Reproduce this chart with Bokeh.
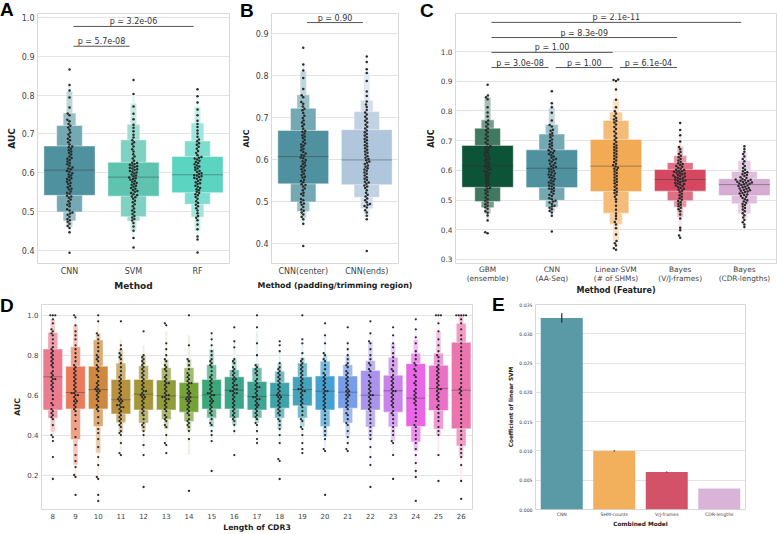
import colorsys
import numpy as np
from bokeh.plotting import figure
from bokeh.models import Range1d, FixedTicker, NumeralTickFormatter, Div, InlineStyleSheet
from bokeh.layouts import row, column
from bokeh.embed import file_html
from bokeh.resources import INLINE
from bokeh.core.properties import value

# ------------------------------------------------------------------ data
A_categories = ["CNN", "SVM", "RF"]
B_categories = ["CNN(center)", "CNN(ends)"]
C_categories = ["GBM\n(ensemble)", "CNN\n(AA-Seq)", "Linear-SVM\n(# of SHMs)",
                "Bayes\n(V/J-frames)", "Bayes\n(CDR-lengths)"]
D_categories = ["8", "9", "10", "11", "12", "13", "14", "15", "16", "17",
                "18", "19", "20", "21", "22", "23", "24", "25", "26"]
E_categories = ["CNN", "SHM-counts", "V/J-frames", "CDR-lengths"]

cnn_auc = [0.394, 0.447, 0.458, 0.463, 0.469, 0.474, 0.478, 0.481, 0.487, 0.492, 0.495, 0.498,
           0.503, 0.506, 0.514, 0.518, 0.521, 0.527, 0.531, 0.536, 0.539, 0.541,
           0.546, 0.549, 0.552, 0.557, 0.559, 0.563, 0.566, 0.571, 0.574, 0.577, 0.581, 0.584,
           0.586, 0.589, 0.593, 0.596, 0.599, 0.603, 0.605,
           0.609, 0.611, 0.614, 0.618, 0.622, 0.625, 0.629, 0.633, 0.636, 0.638, 0.642, 0.647,
           0.651, 0.655, 0.658, 0.662, 0.666, 0.668,
           0.673, 0.679, 0.684, 0.688, 0.693, 0.699, 0.704, 0.711, 0.717, 0.721,
           0.726, 0.733, 0.737, 0.748, 0.753, 0.768, 0.794, 0.812, 0.826, 0.866]
cnn_median = 0.607
cnn_levels = [(0.542, 0.669), (0.499, 0.722), (0.476, 0.754), (0.460, 0.810), (0.440, 0.830)]

svm_auc = [0.408, 0.432, 0.451, 0.462, 0.471, 0.477, 0.481, 0.485, 0.489, 0.494, 0.499, 0.503,
           0.508, 0.514, 0.519, 0.524, 0.528, 0.533, 0.537, 0.539,
           0.542, 0.545, 0.548, 0.551, 0.553, 0.556, 0.559, 0.561, 0.564, 0.567, 0.569, 0.572,
           0.574, 0.577, 0.579, 0.582, 0.584, 0.586, 0.588,
           0.591, 0.593, 0.596, 0.598, 0.601, 0.603, 0.605, 0.607, 0.609, 0.611, 0.613, 0.615,
           0.617, 0.619, 0.621, 0.623, 0.625, 0.626,
           0.631, 0.637, 0.642, 0.648, 0.655, 0.661, 0.668, 0.674, 0.679, 0.684,
           0.691, 0.698, 0.707, 0.716, 0.724, 0.738, 0.752, 0.771, 0.803, 0.839]
svm_median = 0.589
svm_levels = [(0.540, 0.627), (0.487, 0.685), (0.476, 0.725), (0.450, 0.779), (0.430, 0.800)]

rf_auc = [0.395, 0.428, 0.436, 0.455, 0.467, 0.478, 0.484, 0.489, 0.496, 0.503, 0.509, 0.514,
          0.518, 0.522, 0.527, 0.533, 0.538, 0.542, 0.545, 0.548,
          0.551, 0.555, 0.558, 0.561, 0.564, 0.567, 0.571, 0.573, 0.576, 0.579, 0.582, 0.585,
          0.587, 0.589, 0.591, 0.593, 0.594,
          0.597, 0.599, 0.602, 0.605, 0.607, 0.611, 0.614, 0.616, 0.619, 0.622, 0.625, 0.628,
          0.631, 0.634, 0.637, 0.639, 0.641,
          0.645, 0.651, 0.656, 0.662, 0.667, 0.672, 0.676, 0.681,
          0.686, 0.693, 0.701, 0.709, 0.718, 0.726, 0.734, 0.748, 0.763, 0.781, 0.797, 0.815]
rf_median = 0.595
rf_levels = [(0.549, 0.642), (0.519, 0.682), (0.486, 0.728), (0.450, 0.770), (0.430, 0.795)]

cnn_ends_auc = [0.382, 0.458, 0.466, 0.474, 0.479, 0.486, 0.489, 0.492, 0.494, 0.498, 0.503,
                0.507, 0.512, 0.516, 0.521, 0.527, 0.532, 0.536, 0.538,
                0.542, 0.545, 0.547, 0.551, 0.554, 0.558, 0.562, 0.566, 0.569, 0.573, 0.576,
                0.579, 0.583, 0.586, 0.589, 0.592, 0.595, 0.598,
                0.601, 0.604, 0.608, 0.612, 0.616, 0.619, 0.623, 0.627, 0.631, 0.634, 0.638,
                0.642, 0.646, 0.649, 0.653, 0.657, 0.661, 0.665, 0.669,
                0.674, 0.678, 0.683, 0.688, 0.692, 0.697, 0.702, 0.707, 0.712,
                0.718, 0.725, 0.731, 0.738, 0.751, 0.762, 0.787, 0.806, 0.815, 0.832, 0.845]
cnn_ends_median = 0.599
cnn_ends_levels = [(0.540, 0.671), (0.510, 0.714), (0.483, 0.741), (0.463, 0.808), (0.450, 0.830)]

gbm_auc = [0.388, 0.392, 0.431, 0.448, 0.457, 0.462, 0.471, 0.476, 0.481, 0.486, 0.492, 0.497,
           0.503, 0.509, 0.516, 0.522, 0.528, 0.533, 0.538, 0.541,
           0.546, 0.551, 0.556, 0.562, 0.567, 0.572, 0.576, 0.581, 0.585, 0.589, 0.593, 0.597,
           0.601, 0.604, 0.608, 0.611, 0.614,
           0.617, 0.621, 0.625, 0.629, 0.633, 0.637, 0.641, 0.645, 0.649, 0.653, 0.658, 0.662,
           0.667, 0.671, 0.675, 0.679, 0.682,
           0.688, 0.694, 0.701, 0.707, 0.714, 0.721, 0.728, 0.735, 0.741,
           0.748, 0.755, 0.762, 0.768, 0.781, 0.795, 0.812, 0.839, 0.846, 0.852, 0.888]
gbm_median = 0.615
gbm_levels = [(0.543, 0.684), (0.495, 0.742), (0.474, 0.770), (0.454, 0.846), (0.430, 0.850)]

linsvm_auc = [0.333, 0.338, 0.347, 0.355, 0.362, 0.384, 0.405, 0.418, 0.426, 0.437, 0.446,
              0.455, 0.467, 0.481, 0.494, 0.503, 0.511, 0.518, 0.524, 0.528,
              0.533, 0.539, 0.545, 0.551, 0.557, 0.562, 0.566, 0.571, 0.576, 0.581, 0.586,
              0.591, 0.596, 0.601, 0.605, 0.609, 0.613,
              0.617, 0.622, 0.628, 0.633, 0.639, 0.644, 0.649, 0.654, 0.659, 0.664, 0.669,
              0.674, 0.679, 0.684, 0.689, 0.695, 0.702,
              0.709, 0.716, 0.724, 0.731, 0.739, 0.746, 0.754, 0.761, 0.767,
              0.771, 0.776, 0.783, 0.791, 0.799, 0.812, 0.838, 0.872, 0.901, 0.904, 0.906]
linsvm_median = 0.614
linsvm_levels = [(0.529, 0.704), (0.456, 0.768), (0.418, 0.796), (0.362, 0.841), (0.340, 0.900)]

bayes_vj_auc = [0.373, 0.381, 0.398, 0.407, 0.438, 0.451, 0.462, 0.469, 0.474, 0.479, 0.484,
                0.488, 0.493, 0.497, 0.501, 0.506, 0.511, 0.516, 0.521, 0.527,
                0.531, 0.535, 0.538, 0.541, 0.544, 0.547, 0.549, 0.552, 0.554, 0.556, 0.558,
                0.561, 0.563, 0.565, 0.566, 0.568,
                0.571, 0.573, 0.575, 0.577, 0.579, 0.581, 0.583, 0.585, 0.587, 0.589, 0.591,
                0.593, 0.595, 0.597, 0.599, 0.601, 0.602,
                0.605, 0.609, 0.612, 0.615, 0.618, 0.621, 0.624,
                0.628, 0.633, 0.638, 0.644, 0.649, 0.655, 0.662, 0.671, 0.679, 0.697, 0.718,
                0.736, 0.759]
bayes_vj_median = 0.569
bayes_vj_levels = [(0.530, 0.603), (0.498, 0.626), (0.476, 0.650), (0.442, 0.681), (0.400, 0.720)]

bayes_cdr_auc = [0.409, 0.418, 0.425, 0.433, 0.441, 0.449, 0.456, 0.462, 0.468, 0.473, 0.478,
                 0.483, 0.487, 0.491, 0.495, 0.499, 0.503, 0.507, 0.511, 0.514,
                 0.517, 0.519, 0.522, 0.524, 0.527, 0.529, 0.531, 0.533, 0.535, 0.537, 0.539,
                 0.541, 0.543, 0.545, 0.547, 0.549, 0.551,
                 0.553, 0.555, 0.556, 0.558, 0.559, 0.561, 0.562, 0.564, 0.565, 0.567, 0.568,
                 0.569, 0.571,
                 0.574, 0.577, 0.581, 0.584, 0.587, 0.591, 0.594, 0.597, 0.602, 0.608, 0.615,
                 0.622, 0.631, 0.638, 0.647, 0.655, 0.663, 0.672, 0.681]
bayes_cdr_median = 0.552
bayes_cdr_levels = [(0.515, 0.572), (0.488, 0.596), (0.454, 0.633), (0.430, 0.660), (0.415, 0.675)]

A_pairs = [(0, 1), (0, 2)]
A_pvalues = ["p = 5.7e-08", "p = 3.2e-06"]
A_pvalue_y = [0.926, 0.977]
B_pairs = [(0, 1)]
B_pvalues = ["p = 0.90"]
B_pvalue_y = [0.926]
C_pairs = [(0, 1), (1, 2), (2, 3), (0, 2), (0, 3), (0, 4)]
C_pvalues = ["p = 3.0e-08", "p = 1.00", "p = 6.1e-04", "p = 1.00", "p = 8.3e-09", "p = 2.1e-11"]
C_pvalue_y = [0.946, 0.946, 0.946, 0.997, 1.047, 1.098]

D_median = [0.692, 0.613, 0.628, 0.577, 0.605, 0.597, 0.590, 0.602, 0.625, 0.593,
            0.600, 0.628, 0.620, 0.615, 0.600, 0.622, 0.585, 0.633, 0.625]
D_L1_lo = [0.526, 0.531, 0.531, 0.506, 0.526, 0.526, 0.515, 0.531, 0.531, 0.526,
           0.535, 0.547, 0.526, 0.535, 0.526, 0.515, 0.443, 0.523, 0.432]
D_L1_hi = [0.831, 0.745, 0.745, 0.679, 0.679, 0.676, 0.663, 0.679, 0.692, 0.668,
           0.663, 0.692, 0.696, 0.696, 0.724, 0.700, 0.758, 0.750, 0.865]
D_L2_lo = [0.485, 0.378, 0.443, 0.462, 0.460, 0.478, 0.468, 0.486, 0.486, 0.486,
           0.486, 0.486, 0.443, 0.461, 0.440, 0.440, 0.366, 0.430, 0.345]
D_L2_hi = [0.914, 0.843, 0.877, 0.761, 0.748, 0.738, 0.738, 0.753, 0.728, 0.738,
           0.720, 0.761, 0.770, 0.753, 0.774, 0.790, 0.810, 0.810, 0.960]
D_L3_lo = [0.416, 0.250, 0.310, 0.410, 0.420, 0.430, 0.420, 0.440, 0.450, 0.460,
           0.430, 0.440, 0.390, 0.390, 0.380, 0.370, 0.320, 0.400, 0.290]
D_L3_hi = [0.980, 0.950, 0.910, 0.830, 0.800, 0.780, 0.780, 0.830, 0.780, 0.760,
           0.760, 0.790, 0.800, 0.800, 0.870, 0.860, 0.880, 0.920, 1.000]
D_L4_lo = [0.380, 0.190, 0.190, 0.320, 0.330, 0.360, 0.300, 0.380, 0.400, 0.400,
           0.360, 0.380, 0.330, 0.340, 0.250, 0.300, 0.190, 0.300, 0.170]
D_L4_hi = [1.000, 0.990, 0.970, 0.880, 0.850, 0.920, 0.900, 0.900, 0.880, 0.920,
           0.820, 0.860, 0.900, 0.870, 0.920, 0.900, 0.930, 0.990, 1.000]
D_points = [
    [0.18, 0.29, 0.37, 0.39, 0.40, 0.45, 0.48, 0.49, 0.50, 0.51, 0.52, 0.53, 0.55, 0.56, 0.58, 0.60,
     0.62, 0.63, 0.64, 0.65, 0.66, 0.67, 0.68, 0.68, 0.69, 0.70, 0.71, 0.72, 0.74, 0.75, 0.76, 0.77,
     0.78, 0.79, 0.80, 0.81, 0.82, 0.83, 0.84, 0.86, 0.88, 0.90, 0.91, 0.92, 0.93, 0.96, 0.98, 1.0,
     1.0, 1.0],
    [0.10, 0.19, 0.20, 0.24, 0.27, 0.30, 0.35, 0.39, 0.43, 0.47, 0.50, 0.52, 0.53, 0.54, 0.55, 0.56,
     0.57, 0.57, 0.58, 0.59, 0.60, 0.60, 0.61, 0.61, 0.62, 0.63, 0.64, 0.65, 0.66, 0.67, 0.68, 0.69,
     0.70, 0.71, 0.72, 0.73, 0.74, 0.75, 0.77, 0.79, 0.81, 0.83, 0.85, 0.88, 0.90, 0.92, 0.95, 0.99,
     1.0],
    [0.07, 0.10, 0.18, 0.19, 0.25, 0.29, 0.34, 0.38, 0.41, 0.43, 0.46, 0.49, 0.52, 0.53, 0.54, 0.55,
     0.57, 0.58, 0.59, 0.60, 0.61, 0.62, 0.62, 0.63, 0.63, 0.64, 0.65, 0.66, 0.67, 0.69, 0.70, 0.72,
     0.73, 0.74, 0.75, 0.77, 0.78, 0.79, 0.80, 0.82, 0.84, 0.86, 0.88, 0.90, 0.91, 0.97, 1.0],
    [0.30, 0.31, 0.36, 0.40, 0.41, 0.42, 0.44, 0.45, 0.46, 0.47, 0.48, 0.49, 0.50, 0.51, 0.52, 0.53,
     0.54, 0.54, 0.55, 0.55, 0.56, 0.57, 0.57, 0.58, 0.58, 0.59, 0.60, 0.61, 0.62, 0.63, 0.64, 0.65,
     0.66, 0.67, 0.68, 0.69, 0.70, 0.72, 0.74, 0.76, 0.78, 0.79, 0.80, 0.81, 0.83, 0.85, 0.97],
    [0.14, 0.30, 0.35, 0.40, 0.42, 0.44, 0.45, 0.46, 0.48, 0.50, 0.51, 0.52, 0.53, 0.54, 0.55, 0.56,
     0.57, 0.58, 0.59, 0.59, 0.60, 0.60, 0.61, 0.62, 0.62, 0.63, 0.64, 0.65, 0.66, 0.67, 0.68, 0.69,
     0.70, 0.71, 0.72, 0.73, 0.74, 0.75, 0.76, 0.77, 0.78, 0.79, 0.80, 0.92],
    [0.31, 0.35, 0.36, 0.40, 0.44, 0.45, 0.47, 0.48, 0.49, 0.50, 0.52, 0.53, 0.54, 0.55, 0.56, 0.57,
     0.58, 0.58, 0.59, 0.59, 0.60, 0.60, 0.61, 0.62, 0.63, 0.64, 0.65, 0.66, 0.66, 0.67, 0.68, 0.69,
     0.70, 0.72, 0.73, 0.74, 0.75, 0.77, 0.78, 0.80, 0.83, 0.86, 0.95, 0.96],
    [0.12, 0.38, 0.42, 0.44, 0.45, 0.46, 0.47, 0.48, 0.50, 0.51, 0.52, 0.53, 0.54, 0.55, 0.56, 0.57,
     0.57, 0.58, 0.58, 0.59, 0.59, 0.60, 0.61, 0.61, 0.62, 0.63, 0.64, 0.65, 0.66, 0.66, 0.67, 0.68,
     0.69, 0.70, 0.71, 0.73, 0.75, 0.77, 0.78, 0.85, 1.0],
    [0.22, 0.37, 0.40, 0.42, 0.45, 0.46, 0.48, 0.50, 0.51, 0.52, 0.53, 0.54, 0.55, 0.56, 0.57, 0.57,
     0.58, 0.59, 0.60, 0.60, 0.61, 0.61, 0.62, 0.63, 0.64, 0.65, 0.66, 0.67, 0.68, 0.69, 0.70, 0.72,
     0.74, 0.75, 0.76, 0.77, 0.78, 0.80, 0.82, 0.85, 0.88, 0.91],
    [0.30, 0.42, 0.45, 0.47, 0.48, 0.49, 0.50, 0.51, 0.52, 0.53, 0.54, 0.55, 0.56, 0.57, 0.58, 0.59,
     0.60, 0.61, 0.61, 0.62, 0.62, 0.63, 0.63, 0.64, 0.65, 0.65, 0.66, 0.67, 0.68, 0.68, 0.69, 0.70,
     0.71, 0.72, 0.73, 0.74, 0.76, 0.77, 0.78, 0.84, 0.87, 0.94],
    [0.36, 0.38, 0.42, 0.45, 0.46, 0.48, 0.49, 0.50, 0.51, 0.52, 0.53, 0.54, 0.55, 0.55, 0.56, 0.57,
     0.58, 0.58, 0.59, 0.59, 0.60, 0.61, 0.62, 0.63, 0.64, 0.64, 0.65, 0.66, 0.67, 0.68, 0.70, 0.71,
     0.72, 0.73, 0.74, 0.75, 0.80, 0.86, 0.94, 1.0],
    [0.18, 0.27, 0.28, 0.36, 0.40, 0.43, 0.45, 0.47, 0.48, 0.50, 0.51, 0.52, 0.53, 0.54, 0.55, 0.56,
     0.57, 0.58, 0.59, 0.59, 0.60, 0.60, 0.61, 0.62, 0.63, 0.64, 0.65, 0.66, 0.67, 0.68, 0.69, 0.70,
     0.71, 0.72, 0.73, 0.74, 0.76, 0.82, 0.85, 0.87],
    [0.31, 0.33, 0.36, 0.40, 0.43, 0.44, 0.47, 0.48, 0.50, 0.52, 0.54, 0.55, 0.56, 0.57, 0.58, 0.59,
     0.60, 0.61, 0.62, 0.62, 0.63, 0.63, 0.64, 0.65, 0.66, 0.67, 0.68, 0.69, 0.70, 0.71, 0.72, 0.73,
     0.74, 0.75, 0.76, 0.77, 0.78, 0.81, 0.86, 0.88, 1.0],
    [0.10, 0.32, 0.33, 0.38, 0.40, 0.42, 0.44, 0.46, 0.48, 0.50, 0.52, 0.53, 0.54, 0.55, 0.56, 0.57,
     0.58, 0.59, 0.60, 0.61, 0.62, 0.62, 0.63, 0.64, 0.65, 0.66, 0.67, 0.68, 0.69, 0.70, 0.71, 0.73,
     0.75, 0.77, 0.78, 0.80, 0.81, 0.86, 0.90, 0.96],
    [0.32, 0.33, 0.36, 0.39, 0.42, 0.45, 0.46, 0.48, 0.50, 0.51, 0.53, 0.54, 0.55, 0.56, 0.57, 0.58,
     0.59, 0.60, 0.60, 0.61, 0.62, 0.62, 0.63, 0.64, 0.65, 0.66, 0.67, 0.68, 0.69, 0.70, 0.71, 0.72,
     0.74, 0.75, 0.76, 0.78, 0.80, 0.83, 0.86, 0.94],
    [0.14, 0.25, 0.29, 0.34, 0.38, 0.40, 0.42, 0.44, 0.46, 0.48, 0.50, 0.52, 0.53, 0.54, 0.55, 0.56,
     0.57, 0.58, 0.59, 0.60, 0.60, 0.61, 0.62, 0.63, 0.64, 0.65, 0.66, 0.67, 0.69, 0.70, 0.72, 0.73,
     0.75, 0.76, 0.78, 0.80, 0.83, 0.86, 0.87, 0.91, 0.97],
    [0.18, 0.30, 0.36, 0.37, 0.40, 0.42, 0.44, 0.46, 0.48, 0.50, 0.51, 0.52, 0.54, 0.55, 0.56, 0.57,
     0.58, 0.59, 0.60, 0.61, 0.62, 0.62, 0.63, 0.64, 0.65, 0.66, 0.67, 0.68, 0.69, 0.70, 0.72, 0.73,
     0.75, 0.77, 0.79, 0.81, 0.84, 0.86, 0.90, 0.94],
    [0.07, 0.19, 0.22, 0.26, 0.30, 0.33, 0.36, 0.38, 0.40, 0.42, 0.44, 0.45, 0.47, 0.49, 0.51, 0.53,
     0.55, 0.56, 0.57, 0.58, 0.59, 0.60, 0.61, 0.62, 0.63, 0.65, 0.66, 0.67, 0.69, 0.70, 0.72, 0.73,
     0.75, 0.76, 0.78, 0.80, 0.82, 0.86, 0.89, 0.93, 0.98],
    [0.17, 0.30, 0.40, 0.42, 0.44, 0.47, 0.49, 0.51, 0.53, 0.54, 0.55, 0.57, 0.58, 0.59, 0.60, 0.61,
     0.62, 0.63, 0.63, 0.64, 0.65, 0.66, 0.67, 0.68, 0.69, 0.70, 0.71, 0.72, 0.73, 0.74, 0.75, 0.77,
     0.79, 0.80, 0.82, 0.85, 0.88, 0.92, 0.96, 1.0, 1.0, 1.0],
    [0.08, 0.17, 0.25, 0.29, 0.31, 0.33, 0.35, 0.38, 0.40, 0.42, 0.44, 0.46, 0.48, 0.50, 0.52, 0.54,
     0.56, 0.58, 0.60, 0.61, 0.62, 0.63, 0.64, 0.66, 0.68, 0.70, 0.72, 0.74, 0.76, 0.78, 0.80, 0.82,
     0.84, 0.86, 0.88, 0.90, 0.93, 0.96, 0.98, 1.0, 1.0, 1.0, 1.0, 1.0],
]

E_values = [0.0327, 0.0100, 0.0064, 0.0036]
E_err_lo = [0.0319, 0.0099, 0.0063, 0.0036]
E_err_hi = [0.0335, 0.0101, 0.0065, 0.0036]

panel_letters = ["A", "B", "C", "D", "E"]

# ------------------------------------------------------------------ style
FONT = "DejaVu Sans"
GRID = "#e3e3e3"
OUTLINE = "#d8d8d8"
TICK_COL = "#3f3f3f"
LABEL_COL = "#222222"
DOT = "#2b2b2b"

C_CNN = "#4f919f"
A_colors = [C_CNN, "#5ec4b0", "#5cd4c2"]
B_colors = [C_CNN, "#b0c6dc"]
C_colors = ["#0d5338", C_CNN, "#f2aa55", "#d64862", "#d6acd3"]
D_base = ["#f77189", "#f7754f", "#dc8932", "#c39532", "#ae9d31", "#97a431", "#77ab31",
          "#33b07a", "#34af8e", "#35ad9c", "#37abb4", "#38a9c5", "#3aa5df", "#6e9bf4",
          "#a48cf4", "#cc7af4", "#f45cf2", "#f565cc", "#f66bad"]
E_colors = ["#5a9aa6", "#f2b05c", "#d45268", "#dab3d8"]


def hex_rgb(h):
    h = h.lstrip("#")
    return tuple(int(h[i:i + 2], 16) for i in (0, 2, 4))


def desat(h, f):
    r, g, b = [c / 255 for c in hex_rgb(h)]
    hh, l, s = colorsys.rgb_to_hls(r, g, b)
    r, g, b = colorsys.hls_to_rgb(hh, l, s * f)
    return "#%02x%02x%02x" % (int(round(r * 255)), int(round(g * 255)), int(round(b * 255)))


D_colors = [desat(c, 0.85) for c in D_base]


def lighten(h, t):
    return "#%02x%02x%02x" % tuple(int(round(c + (255 - c) * t)) for c in hex_rgb(h))


def make_fig(w, h, left, right, top, bottom, xr, yr, tick_size, label_size):
    p = figure(width=w, height=h, x_range=Range1d(*xr), y_range=Range1d(*yr),
               output_backend="svg", toolbar_location=None, tools="", title=None,
               min_border_left=left, min_border_right=right,
               min_border_top=top, min_border_bottom=bottom)
    p.background_fill_color = "white"
    p.border_fill_color = "white"
    p.outline_line_color = OUTLINE
    p.outline_line_width = 1
    p.xgrid.grid_line_color = None
    p.ygrid.grid_line_color = GRID
    for ax in (p.xaxis[0], p.yaxis[0]):
        ax.axis_line_color = None
        ax.major_tick_line_color = None
        ax.minor_tick_line_color = None
        ax.major_tick_in = 0
        ax.major_tick_out = 0
        ax.minor_tick_in = 0
        ax.minor_tick_out = 0
        ax.major_label_text_font = FONT
        ax.major_label_text_font_size = tick_size
        ax.major_label_text_color = TICK_COL
        ax.axis_label_text_font = FONT
        ax.axis_label_text_font_size = label_size
        ax.axis_label_text_font_style = "bold"
        ax.axis_label_text_color = LABEL_COL
        ax.major_label_standoff = 3
        ax.axis_label_standoff = 2
    return p


def set_cats(p, cats):
    ticks = [i + 0.5 for i in range(len(cats))]
    p.xaxis.ticker = FixedTicker(ticks=ticks)
    p.xaxis.major_label_overrides = {t: c for t, c in zip(ticks, cats)}


def draw_boxen(p, xc, levels, median, color, widths):
    k = len(levels)
    for i in range(k - 1, -1, -1):
        t = 0.85 * i / (k - 1) if k > 1 else 0.0
        lo, hi = levels[i]
        w = widths[i]
        p.quad(left=[xc - w / 2], right=[xc + w / 2], bottom=[lo], top=[hi],
               fill_color=lighten(color, t), line_color="white", line_alpha=0.55,
               line_width=0.8)
    w0 = widths[0]
    p.segment(x0=[xc - w0 / 2], x1=[xc + w0 / 2], y0=[median], y1=[median],
              line_color="#333333", line_alpha=0.4, line_width=1)


def swarm_x(vals, xc, ppx, ppy, d):
    ys = np.asarray(vals, float) * ppy
    order = np.argsort(ys, kind="stable")
    px, py = [], []
    out = np.zeros(len(ys))
    for idx in order:
        yp = ys[idx]
        nb = [(x, y) for x, y in zip(px, py) if abs(y - yp) < d]
        cands = [0.0]
        for x, y in nb:
            dx = (d * d - (y - yp) ** 2) ** 0.5
            cands += [x + dx, x - dx]
        cands.sort(key=lambda c: (abs(c), c))
        best = cands[0]
        for c in cands:
            if all((c - x) ** 2 + (yp - y) ** 2 >= d * d - 1e-6 for x, y in nb):
                best = c
                break
        px.append(best)
        py.append(yp)
        out[idx] = xc + best / ppx
    return out


def draw_swarm(p, xc, vals, ppx, ppy, size=2.5):
    xs = swarm_x(vals, xc, ppx, ppy, size + 0.15)
    p.scatter(x=list(xs), y=list(vals), size=size, fill_color=DOT, line_color=None)


def annotate(p, pairs, labels, ys, hi_off=0.44):
    x0 = [a + 0.56 for a, b in pairs]
    x1 = [b + hi_off for a, b in pairs]
    p.segment(x0=x0, x1=x1, y0=ys, y1=ys, line_color="#555555", line_width=1)
    p.text(x=[(a + b) / 2 for a, b in zip(x0, x1)], y=ys, text=labels,
           text_align="center", text_baseline="bottom", text_font=value(FONT),
           text_font_size=value("8px"), text_color="#333333")


WID5 = [0.8, 0.4, 0.2, 0.1, 0.05]

TOP1, BOT1, H1 = 13, 35, 298
FH1 = H1 - TOP1 - BOT1
TOP2, BOT2, H2 = 6, 22, 236
FH2 = H2 - TOP2 - BOT2

# ------------------------------------------------------------------ panel A
A_y = (0.3665, 1.0103)
pA = make_fig(238, H1, 37, 9, TOP1, BOT1, (0, 3), A_y, "8px", "9px")
set_cats(pA, A_categories)
pA.yaxis.ticker = FixedTicker(ticks=[0.4, 0.5, 0.6, 0.7, 0.8, 0.9, 1.0])
pA.yaxis.formatter = NumeralTickFormatter(format="0.0")
pA.xaxis.axis_label = "Method"
pA.yaxis.axis_label = "AUC"
ppxA, ppyA = 192 / 3, FH1 / (A_y[1] - A_y[0])
for i, (vals, med, lv) in enumerate([(cnn_auc, cnn_median, cnn_levels),
                                     (svm_auc, svm_median, svm_levels),
                                     (rf_auc, rf_median, rf_levels)]):
    draw_boxen(pA, i + 0.5, lv, med, A_colors[i], WID5)
    draw_swarm(pA, i + 0.5, vals, ppxA, ppyA)
annotate(pA, A_pairs, A_pvalues, A_pvalue_y)

# ------------------------------------------------------------------ panel B
B_y = (0.3524, 0.9476)
pB = make_fig(178, H1, 30, 18, TOP1, BOT1, (0, 2), B_y, "8px", "7.9px")
set_cats(pB, B_categories)
pB.yaxis.ticker = FixedTicker(ticks=[0.4, 0.5, 0.6, 0.7, 0.8, 0.9])
pB.yaxis.formatter = NumeralTickFormatter(format="0.0")
pB.xaxis.axis_label = "Method (padding/trimming region)"
pB.yaxis.axis_label = "AUC"
ppxB, ppyB = 130 / 2, FH1 / (B_y[1] - B_y[0])
for i, (vals, med, lv) in enumerate([(cnn_auc, cnn_median, cnn_levels),
                                     (cnn_ends_auc, cnn_ends_median, cnn_ends_levels)]):
    draw_boxen(pB, i + 0.5, lv, med, B_colors[i], WID5)
    draw_swarm(pB, i + 0.5, vals, ppxB, ppyB)
annotate(pB, B_pairs, B_pvalues, B_pvalue_y)

# ------------------------------------------------------------------ panel C
C_y = (0.2865, 1.1279)
pC = make_fig(361, H1, 39, 1, TOP1, BOT1, (0, 5), C_y, "7.4px", "8px")
set_cats(pC, C_categories)
pC.xaxis.major_label_text_line_height = 1.0
pC.xaxis.major_label_standoff = 1
pC.xaxis.axis_label_standoff = 0
pC.yaxis.ticker = FixedTicker(ticks=[0.3, 0.4, 0.5, 0.6, 0.7, 0.8, 0.9, 1.0])
pC.yaxis.formatter = NumeralTickFormatter(format="0.0")
pC.xaxis.axis_label = "Method (Feature)"
pC.yaxis.axis_label = "AUC"
ppxC, ppyC = 321 / 5, FH1 / (C_y[1] - C_y[0])
for i, (vals, med, lv) in enumerate([(gbm_auc, gbm_median, gbm_levels),
                                     (cnn_auc, cnn_median, cnn_levels),
                                     (linsvm_auc, linsvm_median, linsvm_levels),
                                     (bayes_vj_auc, bayes_vj_median, bayes_vj_levels),
                                     (bayes_cdr_auc, bayes_cdr_median, bayes_cdr_levels)]):
    draw_boxen(pC, i + 0.5, lv, med, C_colors[i], WID5)
    draw_swarm(pC, i + 0.5, vals, ppxC, ppyC)
annotate(pC, C_pairs, C_pvalues, C_pvalue_y, hi_off=0.45)

# ------------------------------------------------------------------ panel D
D_y = (0.0272, 1.0543)
pD = make_fig(490, H2, 41, 18, TOP2, BOT2, (0, 19), D_y, "7px", "7.7px")
set_cats(pD, D_categories)
pD.yaxis.ticker = FixedTicker(ticks=[0.2, 0.4, 0.6, 0.8, 1.0])
pD.yaxis.formatter = NumeralTickFormatter(format="0.0")
pD.xaxis.axis_label = "Length of CDR3"
pD.yaxis.axis_label = "AUC"
pD.xaxis.axis_label_standoff = 1
ppxD, ppyD = 431 / 19, FH2 / (D_y[1] - D_y[0])
WID4 = [0.86, 0.43, 0.22, 0.11]
for i in range(len(D_categories)):
    lv = [(D_L1_lo[i], D_L1_hi[i]), (D_L2_lo[i], D_L2_hi[i]),
          (D_L3_lo[i], D_L3_hi[i]), (D_L4_lo[i], D_L4_hi[i])]
    draw_boxen(pD, i + 0.5, lv, D_median[i], D_colors[i], WID4)
    draw_swarm(pD, i + 0.5, D_points[i], ppxD, ppyD, size=2.3)

# ------------------------------------------------------------------ panel E
pE = make_fig(287, H2, 45, 32, TOP2, BOT2, (0, 4), (0, 0.035), "4.6px", "5.8px")
set_cats(pE, E_categories)
pE.yaxis.ticker = FixedTicker(ticks=[0, 0.005, 0.01, 0.015, 0.02, 0.025, 0.03, 0.035])
pE.yaxis.formatter = NumeralTickFormatter(format="0.000")
pE.xaxis.axis_label = "Combined Model"
pE.yaxis.axis_label = "Coefficient of linear SVM"
pE.xaxis.major_label_standoff = 2
pE.xaxis.axis_label_standoff = 1
xE = [i + 0.5 for i in range(len(E_categories))]
pE.vbar(x=xE, top=E_values, width=0.8, fill_color=E_colors, line_color=None)
pE.segment(x0=xE, x1=xE, y0=E_err_lo, y1=E_err_hi, line_color="#333333", line_width=1.3)

# ------------------------------------------------------------------ panel letters (overlay)
letter_pos = [(0, -12), (240, -11), (420, -11), (0, 284), (492, 283)]
spans = "".join(
    '<span style="position:absolute;left:%dpx;top:%dpx;">%s</span>' % (x, y, t)
    for t, (x, y) in zip(panel_letters, letter_pos))
letters_div = Div(
    text=('<div style="position:relative;width:0px;height:0px;'
          "font-family:'Liberation Sans',Arial,sans-serif;font-weight:bold;"
          'font-size:19px;line-height:19px;color:#000;">' + spans + '</div>'),
    width=1, height=1,
    stylesheets=[InlineStyleSheet(css=(
        ":host{position:absolute !important;left:0px !important;top:0px !important;"
        "z-index:10 !important;overflow:visible !important;margin:0 !important;}"
        ":host *{overflow:visible !important;}"))])

layout = column(row(pA, pB, pC), row(pD, pE), letters_div)
open("out.html", "w").write(file_html(layout, INLINE))
